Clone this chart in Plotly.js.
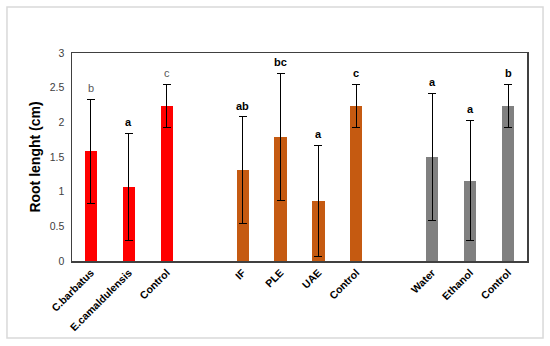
<!DOCTYPE html>
<html>
<head>
<meta charset="utf-8">
<script src="https://cdn.plot.ly/plotly-3.0.1.min.js"></script>
<style>
html,body{margin:0;padding:0;background:#fff;}
#chart{width:550px;height:346px;}
</style>
</head>
<body>
<div id="chart"></div>
<script>
// Categories (slots; blank slots separate the groups)
var slots = ["s0","s1","s2","s3","s4","s5","s6","s7","s8","s9","s10","s11"];
var tickLabels = ["C.barbatus","E.camaldulensis","Control","","IF","PLE","UAE","Control","","Water","Ethanol","Control"];

// Group 1: plant species
var g1Slots = ["s0","s1","s2"];
var g1Values = [1.58, 1.07, 2.24];
var g1Errors = [0.75, 0.77, 0.31];
var g1Letters = ["b","a","c"];

// Group 2: extraction methods
var g2Slots = ["s4","s5","s6","s7"];
var g2Values = [1.31, 1.79, 0.87, 2.24];
var g2Errors = [0.77, 0.92, 0.80, 0.31];
var g2Letters = ["ab","bc","a","c"];

// Group 3: solvents
var g3Slots = ["s9","s10","s11"];
var g3Values = [1.50, 1.16, 2.24];
var g3Errors = [0.92, 0.87, 0.31];
var g3Letters = ["a","a","b"];

function barTrace(x, y, e, color) {
  return {
    type: "bar", x: x, y: y, width: 0.32,
    marker: {color: color},
    error_y: {type: "data", array: e, visible: true, color: "#000", thickness: 1, width: 4},
    hoverinfo: "skip"
  };
}

var data = [
  barTrace(g1Slots, g1Values, g1Errors, "#FF0000"),
  barTrace(g2Slots, g2Values, g2Errors, "#C55A11"),
  barTrace(g3Slots, g3Values, g3Errors, "#808080")
];

var annotations = [];
function addLetters(xs, vals, errs, letters, colors) {
  for (var i = 0; i < xs.length; i++) {
    var c = colors ? colors[i] : "#000";
    annotations.push({
      x: xs[i], y: vals[i] + errs[i], xref: "x", yref: "y",
      text: letters[i], showarrow: false, yanchor: "bottom", yshift: 3,
      font: {family: "Liberation Sans, Arial, sans-serif", size: 11, color: c, weight: c !== "#000" ? 400 : 700}
    });
  }
}
addLetters(g1Slots, g1Values, g1Errors, g1Letters, ["#595959","#000","#595959"]);
addLetters(g2Slots, g2Values, g2Errors, g2Letters);
addLetters(g3Slots, g3Values, g3Errors, g3Letters);

var layout = {
  width: 550, height: 346,
  margin: {l: 72, r: 23, t: 53, b: 85, pad: 0},
  paper_bgcolor: "#fff", plot_bgcolor: "#fff",
  showlegend: false,
  bargap: 0,
  font: {family: "Liberation Sans, Arial, sans-serif", color: "#000"},
  xaxis: {
    type: "category", categoryorder: "array", categoryarray: slots,
    tickmode: "array", tickvals: slots, ticktext: tickLabels,
    tickangle: -45, ticks: "", showgrid: false, zeroline: false,
    tickfont: {size: 10.5, weight: 700, color: "#000"},
    showline: true, linecolor: "#404040", linewidth: 1.5, mirror: true,
    range: [-0.5, 11.5]
  },
  yaxis: {
    range: [0, 3], dtick: 0.5, tick0: 0, showgrid: false, zeroline: false,
    tickfont: {size: 10.5, color: "#404040"}, ticks: "", ticklabelstandoff: 4,
    showline: true, linecolor: "#404040", linewidth: 1.5, mirror: true,
    title: {text: "Root lenght (cm)", font: {size: 14, weight: 700, color: "#000"}, standoff: 6}
  },
  annotations: annotations,
  shapes: [{
    type: "rect", xref: "paper", yref: "paper",
    x0: -0.1429, x1: 1.0352, y0: -0.3702, y1: 1.2212,
    line: {color: "#d9d9d9", width: 1.5}, fillcolor: "rgba(0,0,0,0)", layer: "below"
  }]
};

Plotly.newPlot("chart", data, layout, {displayModeBar: false, staticPlot: true});
</script>
</body>
</html>
